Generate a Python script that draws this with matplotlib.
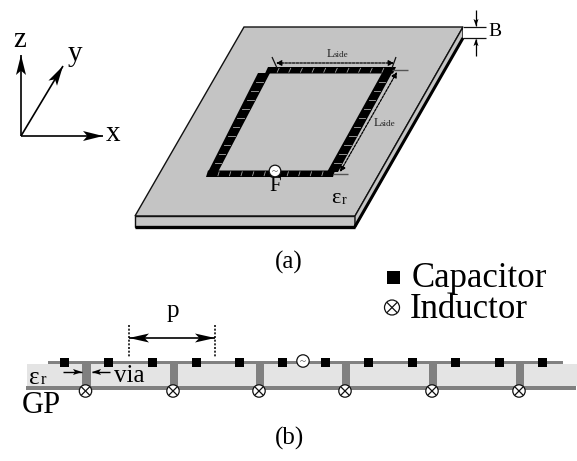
import math
import matplotlib
matplotlib.use("Agg")
import matplotlib.pyplot as plt
from matplotlib.patches import Polygon, Rectangle, Circle, FancyArrowPatch

plt.rcParams['font.family'] = ['Liberation Serif', 'DejaVu Serif']

# Schematic element positions (px)
capacitor_x = [64, 108, 152, 196, 239, 282, 325, 368, 412, 455, 499, 542]
inductor_x = [85.5, 173, 259, 345, 432, 519]
labels = {'cap': 'Capacitor', 'ind': 'Inductor'}
plate_top = [(244, 27), (463, 27), (355, 216), (135, 216)]
plate_front = [(135, 216), (355, 216), (355, 227), (135, 227)]
plate_side = [(463, 27), (463, 38), (355, 227), (355, 216)]
n_cells = 11

W, H = 577, 461
fig = plt.figure(figsize=(W/100, H/100), dpi=100)
ax = fig.add_axes([0, 0, 1, 1])
ax.set_xlim(0, W); ax.set_ylim(H, 0); ax.axis('off')
INK = '#111111'

def stealth(a, b, lw=1.2, head=18, half=4.5, notch=0.22, both=False):
    dx, dy = b[0]-a[0], b[1]-a[1]
    L = math.hypot(dx, dy); ux, uy = dx/L, dy/L
    def tip(p, s):
        vx, vy = ux*s, uy*s
        nx, ny = -vy, vx
        return [p, (p[0]-vx*head+nx*half, p[1]-vy*head+ny*half),
                (p[0]-vx*head*(1-notch), p[1]-vy*head*(1-notch)),
                (p[0]-vx*head-nx*half, p[1]-vy*head-ny*half)]
    ax.plot([a[0], b[0]], [a[1], b[1]], color='black', lw=lw, zorder=6, solid_capstyle='butt')
    ax.add_patch(Polygon(tip(b, 1), fc='black', ec='none', zorder=6))
    if both:
        ax.add_patch(Polygon(tip(a, -1), fc='black', ec='none', zorder=6))

def dashed(a, b):
    ax.add_patch(FancyArrowPatch(a, b, arrowstyle='<|-|>', mutation_scale=8, lw=0.9,
                                 ls=(0, (2, 1)), color='black', shrinkA=0, shrinkB=0, zorder=6))

def line(xs, ys, c=INK, lw=1.0, ls='-', z=5):
    ax.plot(xs, ys, color=c, lw=lw, ls=ls, zorder=z, solid_capstyle='butt')

def inductor(x, y, r, lw=0.9):
    ax.add_patch(Circle((x, y), r, fc='white', ec=INK, lw=lw, zorder=7))
    d = r * 0.7
    line([x-d, x+d], [y-d, y+d], lw=lw, z=8)
    line([x-d, x+d], [y+d, y-d], lw=lw, z=8)

def source(x, y, r):
    ax.add_patch(Circle((x, y), r, fc='white', ec=INK, lw=0.9, zorder=7))
    ax.text(x, y+0.5, '~', ha='center', va='center', fontsize=8, color='#333333', zorder=8)

# Axes triad
stealth((21, 136), (21, 55), lw=1.2, head=20, half=5)
stealth((21, 136), (63, 66), lw=1.2, head=20, half=5)
stealth((21, 136), (103, 136), lw=1.2, head=20, half=5)
ax.text(20, 40, 'z', fontsize=21, ha='center', va='center')
ax.text(75, 54, 'y', fontsize=21, ha='center', va='center')
ax.text(113, 134, 'x', fontsize=21, ha='center', va='center')

# Plate
ax.add_patch(Polygon(plate_top, fc='#c4c4c4', ec=INK, lw=1.0, zorder=1))
ax.add_patch(Polygon(plate_front, fc='#c4c4c4', ec=INK, lw=1.0, zorder=1))
ax.add_patch(Polygon(plate_side, fc='#c4c4c4', ec=INK, lw=1.0, zorder=1))
line([135, 355], [226.5, 226.5], c='black', lw=2.4, z=2)
line([355, 463], [226.5, 38], c='black', lw=2.2, z=2)

# Loop of unit cells: a black band with short pale cross marks between tiles
def band(p0, p1, q0, q1):
    """p0-p1 and q0-q1 are the two long sides of the band."""
    lerp = lambda a, b, t: (a[0]+(b[0]-a[0])*t, a[1]+(b[1]-a[1])*t)
    ax.add_patch(Polygon([p0, p1, q1, q0], fc='black', ec='none', zorder=3))
    for i in range(1, n_cells):
        tm = i/n_cells
        a, b = lerp(p0, p1, tm), lerp(q0, q1, tm)
        s, e = lerp(a, b, 0.2), lerp(a, b, 0.8)
        ax.plot([s[0], e[0]], [s[1], e[1]], color='#a8a8a8', lw=0.6, zorder=4)

band((206, 177), (333, 177), (208, 170.5), (335, 170.5))
band((265, 73.5), (393, 73.5), (268, 67), (396, 67))
band((208, 172), (258, 73), (218, 172), (270, 73))
band((327, 172), (382, 73), (338, 172), (392, 73))
source(275, 171, 5.8)
ax.text(275, 186, 'F', fontsize=15, ha='center', va='center')
ax.text(335.5, 198, 'ε', fontsize=16, ha='center', va='center')
ax.text(344, 200, 'r', fontsize=10, ha='center', va='center')

# L_side dimensions
line([272, 277], [57, 68], lw=0.9)
line([396, 392], [57, 68], lw=0.9)
line([392, 408], [70, 70], c='#555555', lw=1.0)
line([333, 348], [174, 174], c='#555555', lw=1.0)
dashed((276, 63), (394, 63))
dashed((397, 72), (340, 172))
ax.text(330, 54, 'L', fontsize=9, ha='center', va='center', color='#222222')
ax.text(334, 55, 'side', fontsize=6.5, ha='left', va='center', color='#222222')
ax.text(377, 123, 'L', fontsize=9, ha='center', va='center', color='#222222')
ax.text(381, 124, 'side', fontsize=6.5, ha='left', va='center', color='#222222')

# B dimension
ax.add_patch(Rectangle((463, 27), 23, 11, fc='white', ec='none', zorder=2))
line([463, 486], [27, 27], lw=0.9)
line([463, 486], [38.5, 38.5], lw=0.9)
stealth((476, 10), (476, 26), lw=0.9, head=7, half=2.5)
stealth((476, 56), (476, 39), lw=0.9, head=7, half=2.5)
ax.text(488, 32, 'B', fontsize=14, ha='left', va='center')
ax.text(288.5, 262, '(a)', fontsize=18, ha='center', va='center')

# Legend
ax.add_patch(Rectangle((387, 271), 13, 13, fc='black', ec='none'))
inductor(392, 307.5, 7.5, lw=0.9)
ax.text(412, 287, labels['cap'], fontsize=25, ha='left', va='baseline')
ax.text(410, 318, labels['ind'], fontsize=25, ha='left', va='baseline')

# Cross-section (b)
ax.add_patch(Rectangle((27, 364), 550, 22, fc='#e4e4e4', ec='none', zorder=1))
ax.add_patch(Rectangle((48, 361), 515, 3.3, fc='#808080', ec='none', zorder=2))
ax.add_patch(Rectangle((26, 386), 550, 4, fc='#808080', ec='none', zorder=2))
for x in inductor_x:
    ax.add_patch(Rectangle((x-3.5, 362), 8.5, 26, fc='#808080', ec='none', zorder=2))
    inductor(x, 391, 6.2)
for x in capacitor_x:
    ax.add_patch(Rectangle((x-4.5, 358), 9, 9, fc='black', ec='none', zorder=5))
source(303, 361, 6.2)

ax.text(34, 378, 'ε', fontsize=18, ha='center', va='center')
ax.text(43, 380, 'r', fontsize=12, ha='center', va='center')
stealth((63, 372), (82, 372), lw=1.0, head=9, half=3)
stealth((110, 372), (92, 372), lw=1.0, head=9, half=3)
ax.text(114, 376, 'via', fontsize=18, ha='left', va='center')
ax.text(41, 405, 'GP', fontsize=22, ha='center', va='center')
line([129, 129], [325, 357], lw=1.2, ls=(0, (1.2, 1)))
line([215, 215], [325, 357], lw=1.2, ls=(0, (1.2, 1)))
stealth((129, 338), (215, 338), lw=1.2, head=20, half=4.5, both=True)
ax.text(173, 311, 'p', fontsize=18, ha='center', va='center')
ax.text(289, 438, '(b)', fontsize=18, ha='center', va='center')

fig.savefig('out.png', dpi=100)
